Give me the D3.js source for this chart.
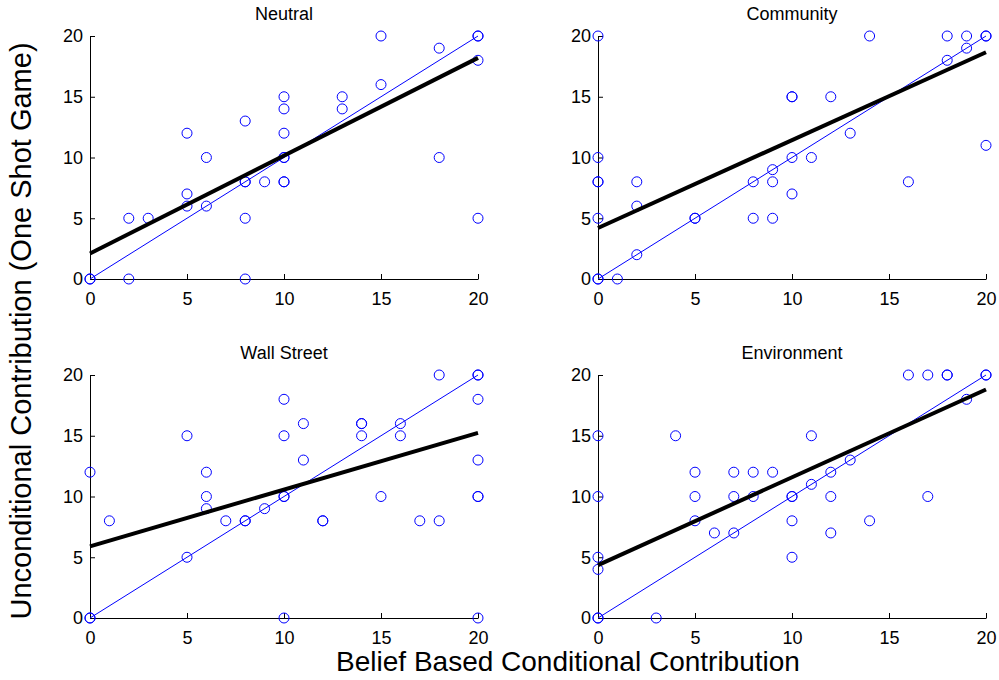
<!DOCTYPE html>
<html>
<head>
<meta charset="utf-8">
<script src="https://cdn.jsdelivr.net/npm/d3@7"></script>
<style>
  html, body { margin: 0; padding: 0; background: #fff; }
  svg { display: block; font-family: "Liberation Sans", Arial, Helvetica, sans-serif; }
</style>
</head>
<body>
<svg id="chart" width="999" height="680"></svg>
<script>
// Panel titles (treatments)
const panelTitles = ["Neutral", "Community", "Wall Street", "Environment"];

// Belief based conditional contribution (x) and unconditional contribution (y) per subject
const neutralX = [0, 0, 2, 2, 3, 5, 5, 5, 6, 6, 8, 8, 8, 8, 8, 9, 10, 10, 10, 10, 10, 10, 10, 13, 13, 15, 15, 18, 18, 20, 20, 20, 20];
const neutralY = [0, 0, 0, 5, 5, 12, 7, 6, 10, 6, 13, 8, 8, 5, 0, 8, 15, 14, 12, 10, 10, 8, 8, 15, 14, 20, 16, 19, 10, 20, 20, 18, 5];

const communityX = [0, 0, 0, 0, 0, 0, 0, 1, 2, 2, 2, 5, 5, 8, 8, 9, 9, 9, 10, 10, 10, 10, 11, 12, 13, 14, 16, 18, 18, 19, 19, 20, 20, 20];
const communityY = [20, 10, 8, 8, 5, 0, 0, 0, 8, 6, 2, 5, 5, 8, 5, 9, 8, 5, 15, 15, 10, 7, 10, 15, 12, 20, 8, 20, 18, 20, 19, 20, 20, 11];

const wallStreetX = [0, 0, 0, 1, 5, 5, 6, 6, 6, 7, 8, 8, 9, 10, 10, 10, 10, 10, 11, 11, 12, 12, 14, 14, 14, 15, 16, 16, 17, 18, 18, 20, 20, 20, 20, 20, 20, 20];
const wallStreetY = [12, 0, 0, 8, 15, 5, 12, 10, 9, 8, 8, 8, 9, 18, 15, 10, 10, 0, 16, 13, 8, 8, 16, 16, 15, 10, 16, 15, 8, 8, 20, 20, 20, 18, 13, 10, 10, 0];

const environmentX = [0, 0, 0, 0, 0, 0, 3, 4, 5, 5, 5, 6, 7, 7, 7, 8, 8, 9, 10, 10, 10, 10, 11, 11, 12, 12, 12, 13, 14, 16, 17, 17, 18, 18, 19, 20, 20];
const environmentY = [15, 10, 5, 4, 0, 0, 0, 15, 12, 10, 8, 7, 12, 10, 7, 12, 10, 12, 10, 10, 8, 5, 11, 15, 12, 10, 7, 13, 8, 20, 20, 10, 20, 20, 18, 20, 20];

// Least-squares fit lines (intercept and slope) per treatment
const fitIntercepts = [2.1, 4.2, 5.9, 4.35];
const fitSlopes = [0.805, 0.723, 0.467, 0.723];

// Axis ticks shared by every panel
const tickValues = [0, 5, 10, 15, 20];
const tickLabels = ["0", "5", "10", "15", "20"];

const xSeries = [neutralX, communityX, wallStreetX, environmentX];
const ySeries = [neutralY, communityY, wallStreetY, environmentY];

const svg = d3.select("#chart");

// Plot areas of the 2x2 grid
const colLeft = [90, 598];
const colWidth = 388;
const rowTop = [36, 375];
const rowHeight = 243;

const blue = "#0000ff";

panelTitles.forEach((title, i) => {
  const col = i % 2, row = Math.floor(i / 2);
  const x = d3.scaleLinear().domain([0, 20]).range([colLeft[col], colLeft[col] + colWidth]);
  const y = d3.scaleLinear().domain([0, 20]).range([rowTop[row] + rowHeight, rowTop[row]]);
  const g = svg.append("g");

  // Axes: ticks point inward, MATLAB-style
  const xAxis = d3.axisBottom(x).tickValues(tickValues)
    .tickFormat((d, k) => tickLabels[k]).tickSizeInner(-5).tickSizeOuter(0).tickPadding(13);
  const yAxis = d3.axisLeft(y).tickValues(tickValues)
    .tickFormat((d, k) => tickLabels[k]).tickSizeInner(-5).tickSizeOuter(0).tickPadding(7);

  const gx = g.append("g").attr("transform", `translate(0,${y(0)})`).call(xAxis);
  const gy = g.append("g").attr("transform", `translate(${x(0)},0)`).call(yAxis);
  [gx, gy].forEach(a => {
    a.select(".domain").attr("stroke", "#000").attr("stroke-width", 1);
    a.selectAll(".tick line").attr("stroke", "#000");
    a.selectAll(".tick text").attr("fill", "#000").style("font-size", "18px")
      .style("font-family", "'Liberation Sans', Arial, sans-serif");
  });
  gx.selectAll(".tick text").attr("dy", "0.71em").attr("y", 13);

  // 45-degree reference line
  g.append("line")
    .attr("x1", x(0)).attr("y1", y(0)).attr("x2", x(20)).attr("y2", y(20))
    .attr("stroke", blue).attr("stroke-width", 1);

  // Data points
  const pts = xSeries[i].map((v, k) => [v, ySeries[i][k]]);
  g.append("g").selectAll("circle").data(pts).join("circle")
    .attr("cx", d => x(d[0])).attr("cy", d => y(d[1])).attr("r", 5)
    .attr("fill", "none").attr("stroke", blue).attr("stroke-width", 1);

  // Fitted regression line
  g.append("line")
    .attr("x1", x(0)).attr("y1", y(fitIntercepts[i]))
    .attr("x2", x(20)).attr("y2", y(fitIntercepts[i] + 20 * fitSlopes[i]))
    .attr("stroke", "#000").attr("stroke-width", 4);

  // Panel title
  g.append("text")
    .attr("x", (x(0) + x(20)) / 2).attr("y", rowTop[row] - 16)
    .attr("text-anchor", "middle").style("font-size", "18px").attr("fill", "#000")
    .text(title);
});

// Shared axis labels
svg.append("text")
  .attr("x", 568).attr("y", 671)
  .attr("text-anchor", "middle").style("font-size", "28px").attr("fill", "#000")
  .text("Belief Based Conditional Contribution");

svg.append("text")
  .attr("transform", "translate(31,331) rotate(-90)")
  .attr("text-anchor", "middle").style("font-size", "29px").attr("fill", "#000")
  .text("Unconditional Contribution (One Shot Game)");
</script>
</body>
</html>
